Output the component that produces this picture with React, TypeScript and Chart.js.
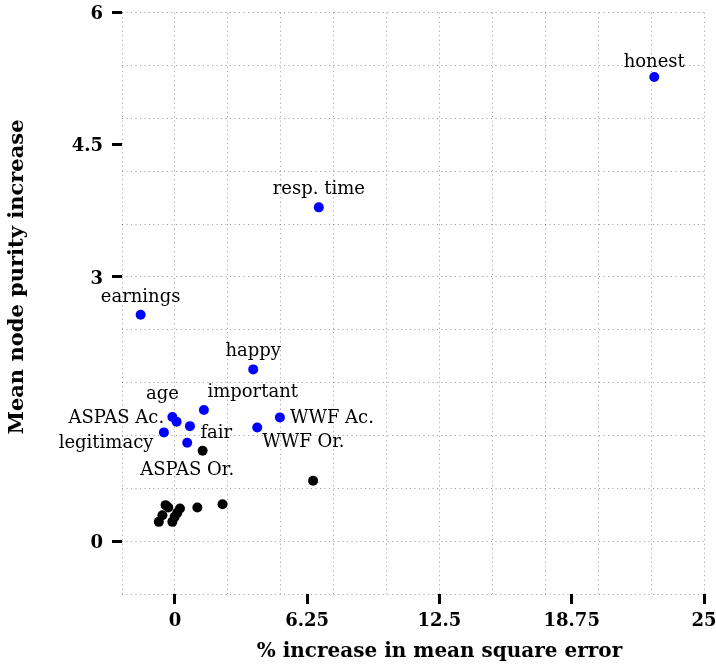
import { useEffect, useRef } from "react";
import { Chart, registerables } from "chart.js";

Chart.register(...registerables);

// ---- data ----
const blueNames = [
  "honest",
  "resp. time",
  "earnings",
  "happy",
  "important",
  "WWF Ac.",
  "age",
  "ASPAS Ac.",
  "fair",
  "WWF Or.",
  "legitimacy",
  "ASPAS Or.",
];
const blueX = [22.65, 6.8, -1.62, 3.7, 1.37, 4.96, -0.12, 0.08, 0.71, 3.89, -0.52, 0.58];
const blueY = [5.27, 3.79, 2.57, 1.95, 1.49, 1.405, 1.41, 1.355, 1.306, 1.29, 1.235, 1.117];

const blackX = [-0.44, -0.31, 0.24, 0.11, -0.59, -0.01, -0.76, -0.12, 1.06, 2.25, 6.53, 1.31];
const blackY = [0.409, 0.383, 0.371, 0.321, 0.295, 0.276, 0.219, 0.219, 0.383, 0.42, 0.685, 1.026];

const xTickValues = [0, 6.25, 12.5, 18.75, 25];
const xTickLabels = ["0", "6.25", "12.5", "18.75", "25"];
const yTickValues = [0, 3, 4.5, 6];
const yTickLabels = ["0", "3", "4.5", "6"];
const xGridValues = [-2.5, 0, 2.5, 5, 7.5, 10, 12.5, 15, 17.5, 20, 22.5, 25];
const yGridValues = [-0.6, 0, 0.6, 1.2, 1.8, 2.4, 3, 3.6, 4.2, 4.8, 5.4, 6];

const xTitle = "% increase in mean square error";
const yTitle = "Mean node purity increase";

// ---- label placement (pixel offsets from each blue point) ----
const labelPlacement: { dx: number; dy: number; align: CanvasTextAlign }[] = [
  { dx: 0, dy: -15, align: "center" }, // honest
  { dx: 0, dy: -18, align: "center" }, // resp. time
  { dx: 0, dy: -17, align: "center" }, // earnings
  { dx: 0, dy: -18, align: "center" }, // happy
  { dx: 3.5, dy: -17.5, align: "left" }, // important
  { dx: 10, dy: 1, align: "left" }, // WWF Ac.
  { dx: -10, dy: -22.5, align: "center" }, // age
  { dx: -12.5, dy: -3.5, align: "right" }, // ASPAS Ac.
  { dx: 10.5, dy: 7.5, align: "left" }, // fair
  { dx: 5, dy: 14.5, align: "left" }, // WWF Or.
  { dx: -10.5, dy: 11, align: "right" }, // legitimacy
  { dx: 0, dy: 27.5, align: "center" }, // ASPAS Or.
];

const FONT = "'DejaVu Serif', serif";
const GRID_COLOR = "rgba(0,0,0,0.4)";

const near = (arr: number[], v: number) => arr.some((a) => Math.abs(a - v) < 1e-6);
const union = (a: number[], b: number[]) =>
  [...a, ...b.filter((v) => !near(a, v))].sort((p, q) => p - q);

const pointLabels = {
  id: "pointLabels",
  afterDatasetsDraw(chart: any) {
    const ctx = chart.ctx;
    const meta = chart.getDatasetMeta(1);
    ctx.save();
    ctx.font = `18px ${FONT}`;
    ctx.fillStyle = "#000";
    ctx.textBaseline = "middle";
    meta.data.forEach((el: any, i: number) => {
      const p = labelPlacement[i];
      ctx.textAlign = p.align;
      ctx.fillText(blueNames[i], el.x + p.dx, el.y + p.dy);
    });
    ctx.restore();
  },
};

const axisTitles = {
  id: "axisTitles",
  afterDraw(chart: any) {
    const ctx = chart.ctx;
    const xs = chart.scales.x;
    const ys = chart.scales.y;
    const area = chart.chartArea;
    ctx.save();
    ctx.fillStyle = "#000";
    ctx.textAlign = "center";
    ctx.textBaseline = "middle";
    ctx.font = `bold 20px ${FONT}`;
    const cx =
      (xs.getPixelForValue(xTickValues[0]) +
        xs.getPixelForValue(xTickValues[xTickValues.length - 1])) /
      2;
    ctx.fillText(xTitle, cx, area.bottom + 58);
    const cy =
      (ys.getPixelForValue(yTickValues[0]) +
        ys.getPixelForValue(yTickValues[yTickValues.length - 1])) /
      2;
    ctx.font = `bold 21px ${FONT}`;
    ctx.translate(area.left - 104, cy);
    ctx.rotate(-Math.PI / 2);
    ctx.fillText(yTitle, 0, 0);
    ctx.restore();
  },
};

export default function App() {
  const ref = useRef<HTMLCanvasElement | null>(null);

  useEffect(() => {
    if (!ref.current) return;
    const chart = new Chart(ref.current, {
      type: "scatter",
      data: {
        datasets: [
          {
            label: "other",
            data: blackX.map((x, i) => ({ x, y: blackY[i] })),
            backgroundColor: "#000000",
            borderWidth: 0,
            pointRadius: 5,
            pointHoverRadius: 5,
          },
          {
            label: "labelled",
            data: blueX.map((x, i) => ({ x, y: blueY[i] })),
            backgroundColor: "#0000ff",
            borderWidth: 0,
            pointRadius: 5,
            pointHoverRadius: 5,
          },
        ],
      },
      options: {
        animation: false,
        responsive: true,
        maintainAspectRatio: false,
        layout: { padding: { top: 12.7, right: 12, left: 0, bottom: 0 } },
        plugins: {
          legend: { display: false },
          tooltip: { enabled: false },
        },
        scales: {
          x: {
            type: "linear",
            min: -2.5,
            max: 25,
            afterBuildTicks: (scale: any) => {
              scale.ticks = union(xGridValues, xTickValues).map((v) => ({ value: v }));
            },
            afterFit: (scale: any) => {
              scale.height = 74;
              scale.paddingLeft = 0;
              scale.paddingRight = 0;
            },
            border: { display: false, dash: [1, 3.5] },
            grid: {
              color: (c: any) => (c.tick && near(xGridValues, c.tick.value) ? GRID_COLOR : "rgba(0,0,0,0)"),
              lineWidth: 1,
              tickColor: (c: any) => (c.tick && near(xTickValues, c.tick.value) ? "#000" : "rgba(0,0,0,0)"),
              tickLength: 10,
              tickWidth: 3,
            },
            ticks: {
              autoSkip: false,
              maxRotation: 0,
              padding: 7,
              color: "#000",
              font: { family: FONT, size: 18, weight: "bold" },
              callback: (v: any) => {
                const i = xTickValues.findIndex((t) => Math.abs(t - Number(v)) < 1e-6);
                return i >= 0 ? xTickLabels[i] : "";
              },
            },
          },
          y: {
            type: "linear",
            min: -0.6,
            max: 6,
            afterBuildTicks: (scale: any) => {
              scale.ticks = union(yGridValues, yTickValues).map((v) => ({ value: v }));
            },
            afterFit: (scale: any) => {
              scale.width = 122;
              scale.paddingTop = 0;
              scale.paddingBottom = 0;
            },
            border: { display: false, dash: [1, 3.5] },
            grid: {
              color: (c: any) => (c.tick && near(yGridValues, c.tick.value) ? GRID_COLOR : "rgba(0,0,0,0)"),
              lineWidth: 1,
              tickColor: (c: any) => (c.tick && near(yTickValues, c.tick.value) ? "#000" : "rgba(0,0,0,0)"),
              tickLength: 10,
              tickWidth: 3,
            },
            ticks: {
              autoSkip: false,
              padding: 9,
              labelOffset: 2,
              color: "#000",
              font: { family: FONT, size: 18, weight: "bold" },
              callback: (v: any) => {
                const i = yTickValues.findIndex((t) => Math.abs(t - Number(v)) < 1e-6);
                return i >= 0 ? yTickLabels[i] : "";
              },
            },
          },
        },
      },
      plugins: [pointLabels, axisTitles],
    });
    return () => chart.destroy();
  }, []);

  return (
    <div style={{ position: "fixed", left: 0, top: 0, width: 716, height: 668 }}>
      <canvas ref={ref} />
    </div>
  );
}
